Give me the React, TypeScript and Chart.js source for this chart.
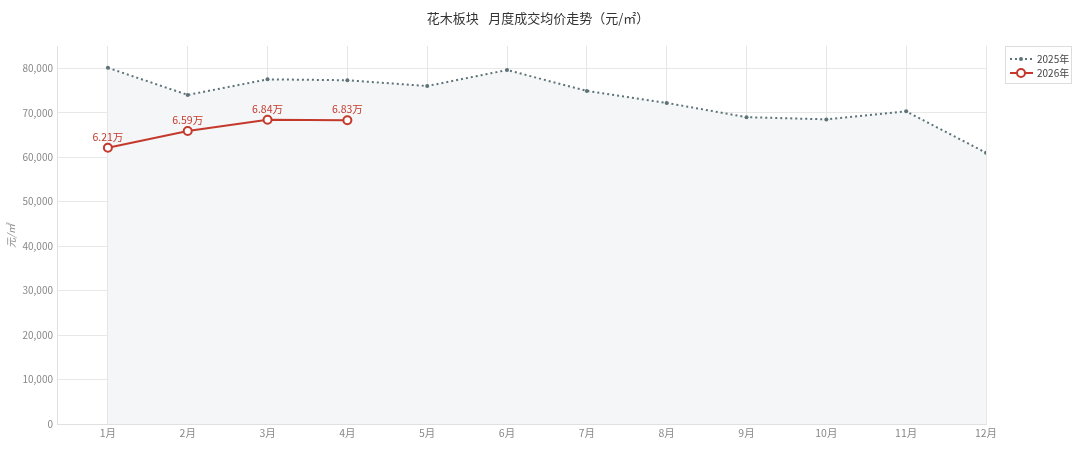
import React, { useEffect, useRef } from "react";
import { Chart, registerables } from "chart.js";

Chart.register(...registerables);

const months = ["1月", "2月", "3月", "4月", "5月", "6月", "7月", "8月", "9月", "10月", "11月", "12月"];
const values2025 = [80100, 74000, 77500, 77300, 76000, 79600, 74900, 72200, 69000, 68500, 70300, 61000];
const values2026 = [62100, 65900, 68400, 68300];
const labels2026 = ["6.21万", "6.59万", "6.84万", "6.83万"];
const yTicks = [0, 10000, 20000, 30000, 40000, 50000, 60000, 70000, 80000];

const FONT = '"Noto Sans CJK SC", "Noto Sans", sans-serif';
const RED = "#c4392c";
const SLATE = "#5d7378";

const overlay = {
  id: "overlay",
  afterDatasetsDraw(chart: any) {
    const ctx = chart.ctx;
    ctx.save();
    const meta = chart.getDatasetMeta(1);
    ctx.font = `10.5px ${FONT}`;
    ctx.fillStyle = RED;
    ctx.textAlign = "center";
    ctx.textBaseline = "bottom";
    meta.data.forEach((pt: any, i: number) => {
      ctx.fillText(labels2026[i], pt.x, pt.y - 6);
    });
    ctx.restore();
  },
  afterDraw(chart: any) {
    const ctx = chart.ctx;
    ctx.save();
    ctx.font = `13px ${FONT}`;
    ctx.fillStyle = "#333";
    ctx.textAlign = "center";
    ctx.textBaseline = "middle";
    ctx.fillText("花木板块\u2002 月度成交均价走势（元/㎡）", 538, 18);
    ctx.translate(11, 236);
    ctx.rotate(-Math.PI / 2);
    ctx.font = `italic 10px ${FONT}`;
    ctx.fillStyle = "#888";
    ctx.fillText("元/㎡", 0, 0);
    ctx.restore();

    // legend
    ctx.save();
    ctx.fillStyle = "#fff";
    ctx.fillRect(1005.5, 46.5, 66, 37);
    ctx.strokeStyle = "#ddd";
    ctx.lineWidth = 1;
    ctx.strokeRect(1005.5, 46.5, 66, 37);
    ctx.strokeStyle = SLATE;
    ctx.lineWidth = 2;
    ctx.setLineDash([2, 3]);
    ctx.beginPath();
    ctx.moveTo(1010, 59);
    ctx.lineTo(1033, 59);
    ctx.stroke();
    ctx.setLineDash([]);
    ctx.fillStyle = SLATE;
    ctx.beginPath();
    ctx.arc(1021, 59, 2, 0, Math.PI * 2);
    ctx.fill();
    ctx.strokeStyle = RED;
    ctx.lineWidth = 2;
    ctx.beginPath();
    ctx.moveTo(1010, 73);
    ctx.lineTo(1033, 73);
    ctx.stroke();
    ctx.fillStyle = "#fff";
    ctx.beginPath();
    ctx.arc(1021, 73, 4, 0, Math.PI * 2);
    ctx.fill();
    ctx.stroke();
    ctx.font = `10px ${FONT}`;
    ctx.fillStyle = "#444";
    ctx.textAlign = "left";
    ctx.textBaseline = "middle";
    ctx.fillText("2025年", 1037, 59);
    ctx.fillText("2026年", 1037, 73);
    ctx.restore();
  },
};

export default function App() {
  const ref = useRef<HTMLCanvasElement>(null);
  useEffect(() => {
    if (!ref.current) return;
    const chart = new Chart(ref.current, {
      type: "line",
      data: {
        datasets: [
          {
            label: "2025年",
            order: 2,
            data: values2025.map((v, i) => ({ x: i + 1, y: v })),
            borderColor: SLATE,
            borderWidth: 2,
            borderDash: [2, 3],
            backgroundColor: "#f4f6f7",
            fill: "origin",
            pointRadius: 2,
            pointBackgroundColor: SLATE,
            pointBorderWidth: 0,
            tension: 0,
          },
          {
            label: "2026年",
            order: 1,
            data: values2026.map((v, i) => ({ x: i + 1, y: v })),
            borderColor: RED,
            borderWidth: 2,
            backgroundColor: "#fff",
            pointRadius: 4,
            pointBackgroundColor: "#fff",
            pointBorderColor: RED,
            pointBorderWidth: 2,
            fill: false,
            tension: 0,
          },
        ],
      },
      options: {
        animation: false,
        responsive: false,
        maintainAspectRatio: false,
        layout: { padding: { left: 0, right: 94, top: 46, bottom: 0 } },
        plugins: { legend: { display: false }, title: { display: false }, tooltip: { enabled: false } },
        scales: {
          x: {
            type: "linear",
            min: 0.3625,
            max: 12,
            afterBuildTicks: (s: any) => {
              s.ticks = months.map((_, i) => ({ value: i + 1 }));
            },
            afterFit: (s: any) => {
              s.height = 39;
            },
            ticks: {
              callback: (v: any) => months[Number(v) - 1] ?? "",
              color: "#888",
              font: { size: 10.5, family: FONT },
              padding: 3,
              maxRotation: 0,
              autoSkip: false,
            },
            grid: { color: "#e6e6e6", drawTicks: false },
            border: { color: "#e0e0e0" },
          },
          y: {
            min: 0,
            max: 85000,
            afterBuildTicks: (s: any) => {
              s.ticks = yTicks.map((v) => ({ value: v }));
            },
            afterFit: (s: any) => {
              s.width = 57;
            },
            ticks: {
              callback: (v: any) => Number(v).toLocaleString("en-US"),
              color: "#888",
              font: { size: 10, family: FONT },
              padding: 4,
            },
            grid: { color: "#e8e8e8", drawTicks: false },
            border: { color: "#e0e0e0" },
          },
        },
      },
      plugins: [overlay],
    } as any);
    return () => chart.destroy();
  }, []);
  return (
    <div style={{ position: "absolute", left: 0, top: 0, width: 1080, height: 463, background: "#fff" }}>
      <canvas ref={ref} width={1080} height={463} style={{ width: 1080, height: 463 }} />
    </div>
  );
}
